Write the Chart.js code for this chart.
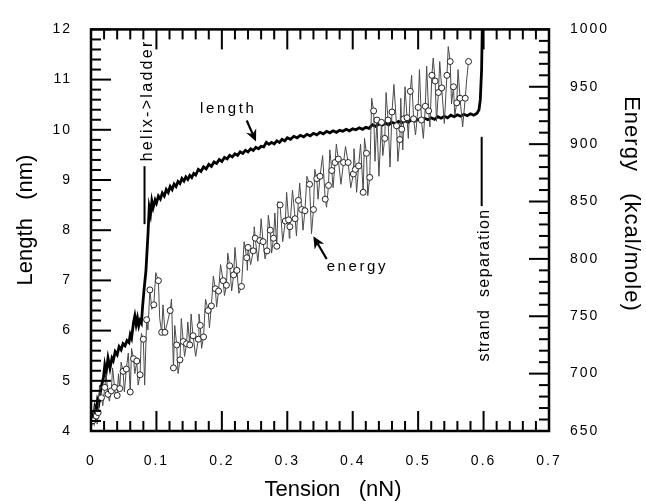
<!DOCTYPE html>
<html><head><meta charset="utf-8">
<script src="https://cdn.jsdelivr.net/npm/chart.js@4.4.1/dist/chart.umd.min.js"></script>
<style>html,body{margin:0;padding:0;background:#fff;}#wrap{width:646px;height:501px;}</style>
</head><body><div id="wrap"><canvas id="c" width="646" height="501"></canvas></div>
<script>
// ---- data ----
const lengthTension = [0,0.002,0.004,0.006,0.008,0.010,0.012,0.014,0.016,0.019,0.021,0.023,0.026,0.029,0.032,0.034,0.037,0.040,0.043,0.046,0.049,0.052,0.055,0.058,0.060,0.062,0.065,0.067,0.069,0.071,0.073,0.075,0.077,0.079,0.081,0.084,0.087,0.089,0.091,0.093,0.095,0.098,0.100,0.103,0.106,0.109,0.112,0.115,0.118,0.121,0.124,0.127,0.130,0.133,0.136,0.139,0.142,0.145,0.148,0.151,0.154,0.157,0.160,0.164,0.168,0.172,0.176,0.180,0.184,0.188,0.192,0.196,0.200,0.204,0.208,0.212,0.216,0.220,0.224,0.228,0.232,0.236,0.240,0.244,0.248,0.252,0.256,0.260,0.264,0.268,0.272,0.276,0.280,0.284,0.288,0.292,0.296,0.300,0.305,0.310,0.315,0.320,0.325,0.330,0.335,0.340,0.345,0.350,0.355,0.360,0.365,0.370,0.375,0.380,0.385,0.390,0.395,0.400,0.405,0.410,0.415,0.420,0.425,0.430,0.435,0.440,0.445,0.450,0.455,0.460,0.465,0.470,0.475,0.480,0.485,0.490,0.495,0.500,0.505,0.510,0.515,0.520,0.525,0.530,0.535,0.540,0.545,0.550,0.555,0.560,0.565,0.570,0.575,0.580,0.585,0.590,0.593,0.595,0.597,0.598];
const lengthNm = [4.12,4.30,4.22,4.47,4.40,4.62,4.55,4.74,4.90,5.06,5.30,5.15,5.45,5.25,5.45,5.40,5.58,5.52,5.68,5.62,5.74,5.70,5.80,5.76,5.92,5.85,6.16,6.29,6.12,6.25,6.10,6.20,6.15,6.50,6.80,7.20,7.90,8.45,8.32,8.58,8.45,8.60,8.54,8.68,8.62,8.74,8.68,8.81,8.75,8.87,8.81,8.92,8.87,8.97,8.93,9.03,8.98,9.06,9.01,9.09,9.05,9.13,9.10,9.21,9.17,9.26,9.22,9.31,9.27,9.36,9.33,9.41,9.37,9.45,9.42,9.49,9.46,9.52,9.49,9.56,9.53,9.59,9.56,9.62,9.59,9.65,9.62,9.67,9.66,9.75,9.71,9.75,9.72,9.78,9.75,9.81,9.78,9.84,9.81,9.87,9.84,9.89,9.86,9.91,9.88,9.93,9.90,9.95,9.92,9.97,9.94,9.98,9.95,9.99,9.97,10.01,9.98,10.02,10.00,10.04,10.01,10.05,10.03,10.10,10.07,10.12,10.09,10.13,10.10,10.15,10.12,10.17,10.14,10.18,10.15,10.20,10.17,10.21,10.18,10.23,10.20,10.24,10.21,10.26,10.23,10.27,10.24,10.29,10.26,10.30,10.27,10.31,10.28,10.32,10.29,10.33,10.40,10.60,11.20,12.00];

const energyTension = [0.003,0.005,0.008,0.0095,0.011,0.013,0.016,0.018,0.021,0.023,0.026,0.028,0.031,0.033,0.036,0.038,0.040,0.042,0.044,0.046,0.049,0.051,0.054,0.057,0.060,0.062,0.065,0.067,0.070,0.072,0.075,0.077,0.080,0.082,0.085,0.087,0.090,0.093,0.096,0.099,0.103,0.105,0.108,0.110,0.113,0.117,0.121,0.123,0.126,0.128,0.131,0.133,0.136,0.138,0.141,0.143,0.146,0.148,0.151,0.153,0.156,0.160,0.164,0.165,0.167,0.169,0.172,0.175,0.179,0.181,0.184,0.187,0.190,0.192,0.195,0.198,0.202,0.204,0.207,0.209,0.212,0.215,0.218,0.220,0.223,0.226,0.230,0.234,0.238,0.239,0.240,0.244,0.248,0.2495,0.251,0.255,0.258,0.260,0.263,0.266,0.269,0.271,0.274,0.276,0.279,0.281,0.284,0.286,0.289,0.293,0.297,0.299,0.302,0.303,0.304,0.308,0.312,0.314,0.317,0.319,0.322,0.324,0.327,0.330,0.334,0.337,0.340,0.342,0.345,0.347,0.350,0.354,0.358,0.360,0.363,0.365,0.368,0.370,0.373,0.375,0.378,0.382,0.386,0.389,0.393,0.397,0.401,0.402,0.404,0.406,0.409,0.412,0.416,0.418,0.421,0.423,0.426,0.429,0.432,0.434,0.437,0.440,0.444,0.446,0.449,0.451,0.454,0.457,0.460,0.463,0.467,0.469,0.472,0.4735,0.475,0.4765,0.478,0.480,0.483,0.485,0.488,0.490,0.493,0.496,0.500,0.502,0.505,0.508,0.511,0.513,0.516,0.518,0.521,0.523,0.526,0.528,0.531,0.533,0.536,0.540,0.544,0.546,0.549,0.551,0.554,0.556,0.559,0.561,0.564,0.568,0.572,0.574,0.577];
const energyKcal = [659,672,663,656,666,690,679,672,688,700,682,676,685,705,688,678,681,700,687,710,702,684,704,718,684,722,713,700,711,690,699,735,730,690,747,738,773,756,760,788,781,748,736,760,736,745,755,765,705,742,725,700,712,748,728,715,726,745,725,752,733,715,730,752,742,722,732,765,755,740,759,785,774,758,772,795,781,768,777,805,794,772,786,810,790,770,776,815,801,790,810,795,807,828,818,798,816,835,815,800,807,838,825,805,818,840,811,850,847,815,833,858,834,818,828,860,835,820,851,866,843,825,842,872,865,822,843,878,870,852,872,890,852,845,864,895,877,862,884,900,887,865,884,898,884,862,874,896,878,858,881,900,858,905,892,855,871,940,929,885,921,872,919,890,905,945,921,880,928,952,916,885,904,940,913,895,922,950,923,905,946,960,922,908,932,965,921,905,933,968,929,915,960,975,955,920,945,972,949,918,960,985,972,935,950,925,936,965,940,915,940,955,972];

const xTickLabels = ['0','0.1','0.2','0.3','0.4','0.5','0.6','0.7'];
const lengthTickLabels = ['4','5','6','7','8','9','10','11','12'];
const energyTickLabels = ['650','700','750','800','850','900','950','1000'];

// ---- build datasets ----
const lengthPts = lengthTension.map((t,i)=>({x:t,y:lengthNm[i]}));
const energyPts = energyTension.map((t,i)=>({x:t,y:energyKcal[i]}));

const FONT = '"Liberation Sans", Arial, Helvetica, sans-serif';

const decor = {
  id:'decor',
  beforeDraw(chart){ chart.ctx.letterSpacing = '2px'; },
  beforeDatasetsDraw(chart){ chart.ctx.letterSpacing = '0px'; },
  afterDraw(chart){
    const ctx = chart.ctx, a = chart.chartArea;
    const xs = chart.scales.x, yl = chart.scales.y, yr = chart.scales.y1;
    ctx.save();
    ctx.letterSpacing = '0px';
    ctx.strokeStyle = '#000';
    ctx.lineCap = 'butt';
    ctx.lineWidth = 2;
    const seg=(x1,y1,x2,y2)=>{ctx.beginPath();ctx.moveTo(x1,y1);ctx.lineTo(x2,y2);ctx.stroke();};
    for(let i=0;i<=35;i++){
      const px = xs.getPixelForValue(i*0.02); const len = i%5===0?20:10;
      seg(px,a.bottom,px,a.bottom-len); seg(px,a.top,px,a.top+len);
    }
    for(let i=0;i<=40;i++){
      const py = yl.getPixelForValue(4+i*0.2); const len = i%5===0?20:10;
      seg(a.left,py,a.left+len,py);
    }
    for(let i=0;i<=35;i++){
      const py = yr.getPixelForValue(650+i*10); const len = i%5===0?20:10;
      seg(a.right,py,a.right-len,py);
    }
    ctx.lineWidth = 2.5;
    ctx.strokeRect(a.left,a.top,a.right-a.left,a.bottom-a.top);

    // annotation lines (data coords, left axis)
    ctx.lineWidth = 2;
    seg(xs.getPixelForValue(0.0818), yl.getPixelForValue(8.12), xs.getPixelForValue(0.0818), yl.getPixelForValue(9.275));
    seg(xs.getPixelForValue(0.5971), yl.getPixelForValue(8.48), xs.getPixelForValue(0.5971), yl.getPixelForValue(9.86));

    // arrows
    const arrow=(t1,l1,t2,l2)=>{
      const x1=xs.getPixelForValue(t1), y1=yl.getPixelForValue(l1);
      const x2=xs.getPixelForValue(t2), y2=yl.getPixelForValue(l2);
      const ang=Math.atan2(y2-y1,x2-x1); const hl=12, hw=5.5;
      const bx=x2-hl*Math.cos(ang), by=y2-hl*Math.sin(ang);
      const nx=x2-(hl*0.7)*Math.cos(ang), ny=y2-(hl*0.7)*Math.sin(ang);
      ctx.lineWidth=2.2; seg(x1,y1,nx,ny);
      ctx.beginPath(); ctx.moveTo(x2,y2);
      ctx.lineTo(bx+hw*Math.sin(ang), by-hw*Math.cos(ang));
      ctx.lineTo(nx,ny);
      ctx.lineTo(bx-hw*Math.sin(ang), by+hw*Math.cos(ang));
      ctx.closePath(); ctx.fillStyle='#000'; ctx.fill();
    };
    arrow(0.238,10.184,0.2522,9.765);
    arrow(0.3602,7.426,0.3398,7.879);

    // annotation texts
    ctx.fillStyle='#000';
    ctx.textBaseline='alphabetic'; ctx.textAlign='left';
    ctx.font = '15px '+FONT; ctx.letterSpacing='2.6px';
    ctx.fillText('length', xs.getPixelForValue(0.1666), yl.getPixelForValue(10.332));
    ctx.fillText('energy', xs.getPixelForValue(0.3602), yl.getPixelForValue(7.19));
    ctx.font = '16px '+FONT;
    ctx.save(); ctx.letterSpacing='2.3px';
    ctx.translate(xs.getPixelForValue(0.0925), yl.getPixelForValue(9.372)); ctx.rotate(-Math.PI/2);
    ctx.fillText('helix->ladder',0,0); ctx.restore();
    ctx.save(); ctx.letterSpacing='1.4px';
    ctx.translate(xs.getPixelForValue(0.6083), yl.getPixelForValue(5.382)); ctx.rotate(-Math.PI/2);
    ctx.fillText('strand  separation',0,0); ctx.restore();

    // axis titles
    ctx.letterSpacing='0px';
    ctx.font = '22px '+FONT;
    ctx.textAlign='center';
    ctx.fillText('Tension   (nN)', 333, 496);
    ctx.save(); ctx.translate(31.5,220); ctx.rotate(-Math.PI/2);
    ctx.fillText('Length   (nm)',0,0); ctx.restore();
    ctx.save(); ctx.letterSpacing='1px'; ctx.translate(624.5,204); ctx.rotate(Math.PI/2);
    ctx.fillText('Energy   (kcal/mole)',0,0); ctx.restore();
    ctx.restore();
  }
};

const tickFont = {family: FONT, size: 14};
new Chart(document.getElementById('c'), {
  type:'line',
  data:{datasets:[
    {label:'energy', data:energyPts, yAxisID:'y1', order:0, borderColor:'#4a4a4a', borderWidth:1,
     pointRadius:(c)=>c.dataIndex%2===0?3:0, pointHoverRadius:0, pointBackgroundColor:'#fff', pointBorderColor:'#222', pointBorderWidth:1, tension:0},
    {label:'length', data:lengthPts, yAxisID:'y', order:1, borderColor:'#000', borderWidth:2.8, pointRadius:0, tension:0}
  ]},
  options:{
    responsive:false, animation:false, devicePixelRatio:1,
    layout:{padding:{top:20,left:0,right:0,bottom:0}},
    plugins:{legend:{display:false}, tooltip:{enabled:false}},
    events:[],
    scales:{
      x:{type:'linear', position:'bottom', min:0, max:0.7,
         ticks:{stepSize:0.1, autoSkip:false, maxRotation:0, padding:22, color:'#000', font:tickFont, callback:(v,i)=>xTickLabels[i]},
         grid:{display:false, drawTicks:false}, border:{display:false},
         afterFit:(s)=>{s.height=70;}},
      y:{type:'linear', position:'left', min:4, max:12,
         ticks:{stepSize:1, padding:19, color:'#000', font:tickFont, callback:(v,i)=>lengthTickLabels[i]},
         grid:{display:false, drawTicks:false}, border:{display:false},
         afterFit:(s)=>{s.width=91;}},
      y1:{type:'linear', position:'right', min:650, max:1000,
         ticks:{stepSize:50, padding:21, color:'#000', font:tickFont, callback:(v,i)=>energyTickLabels[i]},
         grid:{display:false, drawTicks:false}, border:{display:false},
         afterFit:(s)=>{s.width=97;}}
    }
  },
  plugins:[decor]
});
</script></body></html>
